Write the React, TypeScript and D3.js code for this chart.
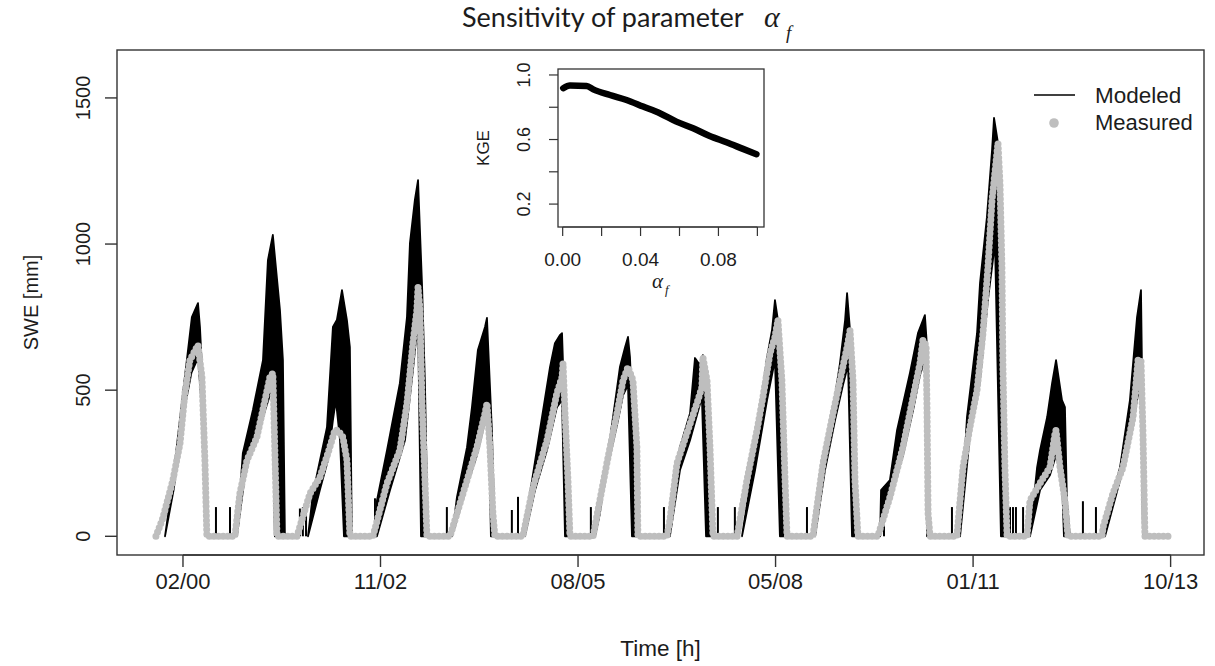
import React from "react";
import * as d3 from "d3";

// ---- data (time axis: record day index; SWE in mm) ----
const xTickPos = [137, 1137, 2137, 3137, 4137, 5137];
const xTickLabels = ["02/00", "11/02", "08/05", "05/08", "01/11", "10/13"];
const yTicks = [0, 500, 1000, 1500];

const measured: [number, number][] = [
  [0, 0], [35, 62], [86, 192], [122, 318], [147, 490], [172, 603], [213, 654], [233, 545], [248, 260], [258, 0],
  [400, 0], [425, 147], [461, 260], [511, 339], [552, 466], [577, 545], [592, 558], [602, 295], [613, 0],
  [714, 0], [780, 147], [830, 202], [871, 284], [906, 363], [921, 363], [947, 339], [967, 260], [982, 0],
  [1099, 0], [1170, 182], [1235, 295], [1271, 455], [1301, 661], [1321, 774], [1327, 853], [1337, 774], [1347, 466], [1362, 192], [1372, 0],
  [1489, 0], [1575, 192], [1625, 305], [1666, 421], [1676, 455], [1691, 305], [1706, 79], [1716, 0],
  [1858, 0], [1909, 168], [1980, 329], [2030, 490], [2056, 545], [2061, 592], [2071, 421], [2086, 192], [2096, 0],
  [2213, 0], [2283, 250], [2334, 421], [2365, 534], [2390, 579], [2415, 534], [2435, 305], [2440, 0],
  [2587, 0], [2602, 55], [2638, 250], [2688, 353], [2739, 455], [2764, 510], [2769, 613], [2790, 534], [2805, 305], [2820, 0],
  [2942, 0], [2992, 192], [3043, 363], [3073, 476], [3109, 627], [3134, 682], [3149, 740], [3169, 534], [3185, 192], [3195, 0],
  [3326, 0], [3377, 250], [3428, 421], [3463, 534], [3499, 647], [3514, 705], [3529, 534], [3539, 192], [3554, 0],
  [3655, 0], [3716, 134], [3782, 305], [3833, 476], [3868, 592], [3883, 671], [3899, 654], [3904, 421], [3909, 79], [3919, 0],
  [4055, 0], [4086, 236], [4121, 373], [4157, 500], [4187, 695], [4212, 921], [4233, 1151], [4263, 1346], [4273, 1209], [4283, 921], [4288, 579], [4298, 236], [4309, 0],
  [4410, 0], [4425, 123], [4476, 182], [4526, 236], [4552, 353], [4557, 363], [4577, 236], [4602, 123], [4617, 0],
  [4790, 0], [4795, 31], [4845, 147], [4896, 236], [4947, 408], [4972, 603], [4987, 603], [4997, 353], [5007, 0], [5124, 0],
];

// upper envelope of the modeled ensemble, one list per snow season
const modeledUpper: [number, number][][] = [
  [[46, 0], [86, 192], [137, 490], [182, 750], [213, 798], [223, 716], [233, 579], [248, 329], [258, 0]],
  [[410, 0], [440, 284], [491, 432], [542, 603], [567, 945], [592, 1031], [628, 774], [643, 603], [653, 0]],
  [[770, 0], [795, 147], [866, 373], [896, 716], [916, 740], [942, 842], [967, 740], [982, 647], [992, 0]],
  [[1109, 0], [1119, 123], [1170, 295], [1235, 524], [1271, 750], [1286, 1003], [1311, 1151], [1327, 1219], [1347, 866], [1362, 524], [1377, 0]],
  [[1499, 0], [1524, 134], [1575, 305], [1600, 442], [1630, 637], [1666, 716], [1676, 747], [1686, 592], [1701, 363], [1716, 0]],
  [[1868, 0], [1878, 79], [1944, 363], [1995, 579], [2020, 661], [2045, 688], [2056, 695], [2061, 592], [2071, 305], [2086, 0]],
  [[2223, 0], [2248, 79], [2298, 329], [2349, 579], [2375, 647], [2390, 682], [2400, 613], [2415, 363], [2435, 0]],
  [[2602, 0], [2617, 89], [2653, 305], [2704, 421], [2729, 610], [2754, 586], [2769, 620], [2795, 421], [2815, 0]],
  [[2967, 0], [3023, 250], [3094, 613], [3119, 705], [3134, 808], [3149, 740], [3169, 421], [3185, 0]],
  [[3337, 0], [3347, 79], [3412, 363], [3463, 592], [3489, 740], [3499, 832], [3514, 705], [3529, 363], [3549, 0]],
  [[3666, 0], [3671, 158], [3716, 192], [3752, 363], [3817, 558], [3858, 695], [3893, 757], [3904, 647], [3909, 305], [3919, 0]],
  [[4071, 0], [4106, 408], [4157, 695], [4172, 866], [4207, 1092], [4233, 1322], [4243, 1432], [4263, 1346], [4283, 1038], [4288, 579], [4309, 0]],
  [[4425, 0], [4461, 236], [4476, 295], [4512, 408], [4537, 524], [4557, 603], [4587, 466], [4602, 442], [4612, 123], [4627, 0]],
  [[4805, 0], [4815, 65], [4881, 236], [4931, 466], [4967, 750], [4987, 842], [4992, 579], [5007, 0]],
];

// lower envelope of the modeled ensemble
const modeledLower: [number, number][][] = [
  [[46, 0], [90, 160], [140, 420], [180, 560], [213, 610], [228, 480], [248, 200], [256, 0]],
  [[410, 0], [461, 260], [511, 325], [552, 430], [590, 510], [602, 0]],
  [[770, 0], [830, 158], [871, 260], [896, 397], [911, 466], [932, 329], [952, 0]],
  [[1119, 0], [1185, 158], [1261, 329], [1301, 568], [1327, 740], [1342, 0]],
  [[1499, 0], [1575, 175], [1625, 277], [1666, 397], [1686, 363], [1696, 0]],
  [[1868, 0], [1919, 158], [1980, 295], [2030, 442], [2056, 466], [2071, 0]],
  [[2223, 0], [2283, 226], [2334, 380], [2365, 483], [2390, 517], [2410, 0]],
  [[2602, 0], [2653, 226], [2704, 329], [2739, 414], [2764, 476], [2785, 0]],
  [[2967, 0], [3033, 226], [3094, 466], [3134, 603], [3159, 0]],
  [[3337, 0], [3387, 226], [3438, 397], [3478, 517], [3504, 586], [3524, 0]],
  [[3666, 0], [3716, 123], [3782, 277], [3833, 431], [3868, 551], [3893, 603], [3904, 0]],
  [[4071, 0], [4121, 346], [4172, 534], [4212, 808], [4248, 1003], [4278, 0]],
  [[4425, 0], [4476, 158], [4526, 209], [4557, 277], [4587, 192], [4597, 0]],
  [[4805, 0], [4881, 192], [4931, 329], [4967, 466], [4987, 534], [4997, 0]],
];

// short modeled snow events between seasons
const modeledSpikes: [number, number][] = [
  [304, 100], [375, 100], [729, 95], [744, 100], [760, 90], [1109, 130], [1473, 100], [1802, 90], [1833, 135],
  [2202, 100], [2572, 100], [2845, 100], [2931, 100], [3296, 100], [3686, 170], [4030, 100],
  [4324, 100], [4339, 100], [4354, 100], [4390, 100], [4693, 120], [4759, 100],
];

// inset: KGE vs alpha_f
const kgeAlpha = [0.0003, 0.0037, 0.0123, 0.0157, 0.0243, 0.0328, 0.0413, 0.0499, 0.0584, 0.067, 0.0755, 0.0841, 0.0926, 0.0995];
const kgeValue = [0.918, 0.934, 0.932, 0.911, 0.876, 0.845, 0.804, 0.763, 0.711, 0.67, 0.622, 0.583, 0.542, 0.509];
const insetXTicks = [0, 0.02, 0.04, 0.06, 0.08, 0.1];
const insetXLabels = ["0.00", "", "0.04", "", "0.08", ""];
const insetYTicks = [0.2, 0.4, 0.6, 0.8, 1.0];
const insetYLabels = ["0.2", "", "0.6", "", "1.0"];

const SANS = "Liberation Sans, Arial, Helvetica, sans-serif";
const SERIF = "Liberation Serif, Times New Roman, serif";
const INK = "#1c1c1c";

export default function App() {
  const L = 117, R = 1204, T = 50, B = 555;
  const x = d3.scaleLinear().domain([-197, 5306]).range([L, R]);
  const y = d3.scaleLinear().domain([-64, 1664]).range([B, T]);
  const line = d3.line<[number, number]>().x((d) => x(d[0])).y((d) => y(d[1]));

  const bands = modeledUpper.map((up, i) => line([...up, ...modeledLower[i].slice().reverse()]) + "Z");

  // inset
  const iL = 558, iR = 764, iT = 69, iB = 227;
  const xi = d3.scaleLinear().domain([-0.0024, 0.1034]).range([iL, iR]);
  const yi = d3.scaleLinear().domain([0.058, 1.037]).range([iB, iT]);
  const kgePts: [number, number][] = kgeAlpha.map((a, i) => [a, kgeValue[i]]);
  const kgeLine = d3.line<[number, number]>().x((d) => xi(d[0])).y((d) => yi(d[1])).curve(d3.curveMonotoneX)(kgePts) || "";

  const sans = { fontFamily: SANS };
  const serifI = { fontFamily: SERIF, fontStyle: "italic" as const };

  return (
    <svg width={1215} height={666} style={{ position: "absolute", left: 0, top: 0, background: "#fff" }}>
      <rect x={0} y={0} width={1215} height={666} fill="#fff" />
      {/* title */}
      <text x={462} y={27} style={{ fontFamily: "Lato, Open Sans, sans-serif" }} fontSize={27} fill={INK}>Sensitivity of parameter</text>
      <text x={764} y={27} style={serifI} fontSize={30} fill={INK}>α</text>
      <text x={786} y={39} style={serifI} fontSize={19} fill={INK}>f</text>

      {/* modeled bands */}
      <g>
        {bands.map((d, i) => (
          <path key={i} d={d} fill="#000" stroke="#000" strokeWidth={1.8} strokeLinejoin="round" />
        ))}
        {modeledSpikes.map((s, i) => (
          <line key={i} x1={x(s[0])} x2={x(s[0])} y1={y(0)} y2={y(s[1])} stroke="#000" strokeWidth={2} />
        ))}
      </g>
      {/* measured points */}
      <path d={line(measured) || ""} fill="none" stroke="#bebebe" strokeWidth={7} strokeDasharray="0 4.6" strokeLinecap="round" strokeLinejoin="round" />

      {/* frame */}
      <rect x={L} y={T} width={R - L} height={B - T} fill="none" stroke="#333" strokeWidth={1.4} />

      {/* y axis */}
      {yTicks.map((t) => (
        <g key={t}>
          <line x1={L - 12} x2={L} y1={y(t)} y2={y(t)} stroke="#333" strokeWidth={1.4} />
          <text transform={`translate(${90},${y(t)}) rotate(-90)`} textAnchor="middle" style={sans} fontSize={20} fill={INK}>{t}</text>
        </g>
      ))}
      <text transform={`translate(${38},${(T + B) / 2}) rotate(-90)`} textAnchor="middle" style={sans} fontSize={20} fill={INK}>SWE [mm]</text>

      {/* x axis */}
      <line x1={x(xTickPos[0])} x2={x(xTickPos[xTickPos.length - 1])} y1={B} y2={B} stroke="#333" strokeWidth={1.4} />
      {xTickPos.map((t, i) => (
        <g key={t}>
          <line x1={x(t)} x2={x(t)} y1={B} y2={B + 12} stroke="#333" strokeWidth={1.4} />
          <text x={x(t)} y={589} textAnchor="middle" style={sans} fontSize={22} fill={INK}>{xTickLabels[i]}</text>
        </g>
      ))}
      <text x={(L + R) / 2} y={656} textAnchor="middle" style={sans} fontSize={22.5} fill={INK}>Time [h]</text>

      {/* legend */}
      <line x1={1034} x2={1075} y1={95} y2={95} stroke="#000" strokeWidth={1.5} />
      <text x={1095} y={103} style={sans} fontSize={22.5} fill={INK}>Modeled</text>
      <circle cx={1054} cy={123} r={4.8} fill="#bebebe" />
      <text x={1095} y={130} style={sans} fontSize={22} fill={INK}>Measured</text>

      {/* inset */}
      <rect x={iL} y={iT} width={iR - iL} height={iB - iT} fill="#fff" stroke="#333" strokeWidth={1.3} />
      <path d={kgeLine} fill="none" stroke="#000" strokeWidth={6.5} strokeLinecap="round" strokeLinejoin="round" />
      <line x1={xi(0)} x2={xi(0.1)} y1={iB} y2={iB} stroke="#333" strokeWidth={1.2} />
      {insetXTicks.map((t, i) => (
        <g key={t}>
          <line x1={xi(t)} x2={xi(t)} y1={iB} y2={iB + 9} stroke="#333" strokeWidth={1.2} />
          {insetXLabels[i] && (
            <text x={xi(t)} y={266} textAnchor="middle" style={sans} fontSize={19} fill={INK}>{insetXLabels[i]}</text>
          )}
        </g>
      ))}
      {insetYTicks.map((t, i) => (
        <g key={t}>
          <line x1={iL - 9} x2={iL} y1={yi(t)} y2={yi(t)} stroke="#333" strokeWidth={1.2} />
          {insetYLabels[i] && (
            <text transform={`translate(${530},${yi(t)}) rotate(-90)`} textAnchor="middle" style={sans} fontSize={18} fill={INK}>{insetYLabels[i]}</text>
          )}
        </g>
      ))}
      <text transform={`translate(${489},${(iT + iB) / 2}) rotate(-90)`} textAnchor="middle" style={sans} fontSize={17} fill={INK}>KGE</text>
      <text x={652} y={288} style={serifI} fontSize={21} fill={INK}>α</text>
      <text x={665} y={294} style={serifI} fontSize={13} fill={INK}>f</text>
    </svg>
  );
}
